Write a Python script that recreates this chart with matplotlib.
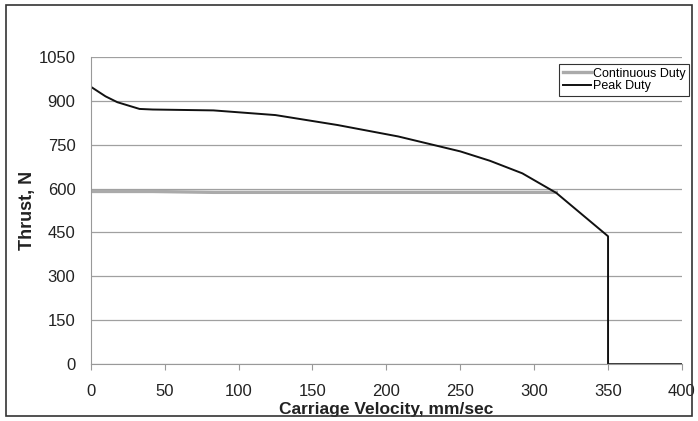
import matplotlib
matplotlib.use("Agg")
import matplotlib.pyplot as plt
from matplotlib.patches import Rectangle

plt.rcParams['font.family'] = ['Liberation Sans', 'DejaVu Sans']

# data
peak_v = [0, 10, 18, 33, 42, 83, 125, 167, 208, 250, 270, 292, 315, 350, 350, 400]
peak_f = [948, 915, 895, 872, 870, 867, 851, 817, 778, 727, 695, 652, 585, 437, 0, 0]
cont_v = [0, 42, 83, 315]
cont_f = [590, 590, 587, 587]

xticks = [0, 50, 100, 150, 200, 250, 300, 350, 400]
yticks = [0, 150, 300, 450, 600, 750, 900, 1050]

fig = plt.figure(figsize=(6.98, 4.21), dpi=100)
ax = fig.add_axes([0.130, 0.135, 0.847, 0.730])

fig.patches.append(Rectangle((0.009, 0.012), 0.983, 0.976, transform=fig.transFigure,
                             fill=False, edgecolor='#333333', linewidth=1.2))

ax.plot(cont_v, cont_f, color='#aaaaaa', linewidth=2.4, label='Continuous Duty')
ax.plot(peak_v, peak_f, color='#111111', linewidth=1.4, label='Peak Duty')

ax.set_xlim(0, 400)
ax.set_ylim(0, 1050)
ax.set_xticks(xticks)
ax.set_yticks(yticks)
ax.yaxis.grid(True, color='#a0a0a0', linewidth=0.9)
ax.set_axisbelow(True)
for s in ['top', 'right']:
    ax.spines[s].set_visible(False)
for s in ['left', 'bottom']:
    ax.spines[s].set_color('#999999')
ax.tick_params(axis='x', direction='out', length=4, color='#999999', labelsize=12,
               labelcolor='#222222', pad=10)
ax.tick_params(axis='y', length=0, labelsize=12, labelcolor='#222222', pad=11)

ax.set_xlabel('Carriage Velocity, mm/sec', fontsize=12.5, fontweight='bold', color='#222222')
ax.xaxis.set_label_coords(0.5, -0.122)
ax.set_ylabel('Thrust, N', fontsize=13, fontweight='bold', color='#222222', labelpad=1.5)

leg = ax.legend(loc='upper right', bbox_to_anchor=(689 / 698, 1 - 64 / 421),
                bbox_transform=fig.transFigure, fontsize=9, frameon=True,
                fancybox=False, handlelength=2.3, handletextpad=0.1, borderpad=0.3,
                labelspacing=0.05, borderaxespad=0.0)
leg.get_frame().set_edgecolor('black')
leg.get_frame().set_linewidth(0.8)

fig.savefig('out.png', dpi=100)
